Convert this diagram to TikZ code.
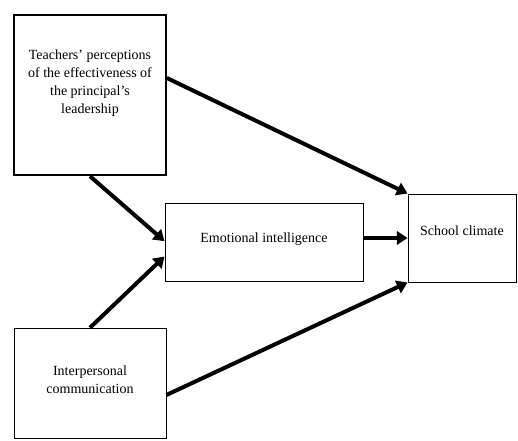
\documentclass[tikz,border=0pt]{standalone}
\usepackage{fontspec}
\setmainfont{Liberation Serif}
\usetikzlibrary{arrows.meta}
\begin{document}
\begin{tikzpicture}[x=0.75pt,y=-0.75pt,
  box/.style={draw, line width=0.7pt, align=center, inner sep=0pt, font=\fontsize{10.5}{13.5}\selectfont},
  arr/.style={line width=3pt, -{Triangle[length=8pt,width=10pt]}}]
\useasboundingbox (0,0) rectangle (518,440);
\node[box, line width=1.3pt, minimum width=114pt, minimum height=120.5pt, text depth=20pt] (teach) at (90,95) {Teachers' perceptions\\of the effectiveness of\\the principal's\\leadership};
\node[box, minimum width=148.5pt, minimum height=59pt, text depth=8pt] (ei) at (264,242.5) {Emotional intelligence};
\node[box, minimum width=81pt, minimum height=66pt, text depth=11pt] (clim) at (462,238) {School climate};
\node[box, minimum width=114pt, minimum height=83pt, text depth=6pt] (inter) at (90,383.5) {Interpersonal\\communication};
\draw[arr] ([yshift=12.75pt]teach.east) -- (clim.north west);
\draw[arr] (teach.south) -- ([yshift=1pt]ei.west);
\draw[arr] (inter.north) -- ([yshift=-10.5pt]ei.west);
\draw[arr] (ei.east |- clim.west) -- (clim.west);
\draw[arr] ([yshift=-8.6pt]inter.east) -- (clim.south west);
\end{tikzpicture}
\end{document}
